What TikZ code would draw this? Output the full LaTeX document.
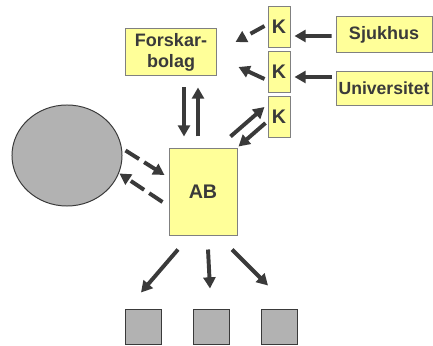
\documentclass[tikz,border=0pt]{standalone}
\usepackage{fontspec}
\setmainfont{Liberation Sans}
\usetikzlibrary{arrows.meta,shapes.geometric}
\definecolor{boxyellow}{HTML}{FFFF99}
\definecolor{boxedge}{HTML}{808080}
\definecolor{blobgray}{HTML}{B2B2B2}
\definecolor{inkgray}{HTML}{3A3A3A}
\tikzset{
  yellowbox/.style={draw=boxedge, fill=boxyellow, line width=0.7pt, inner sep=0pt,
    text=inkgray, font=\fontsize{12.8}{15}\selectfont\bfseries, align=center},
  bigletter/.style={font=\fontsize{14}{16}\selectfont\bfseries},
  graybox/.style={draw=inkgray, fill=blobgray, line width=0.7pt, inner sep=0pt},
  arr/.style={draw=inkgray, line width=2.8pt,
    -{Triangle[length=0.28cm,width=0.3cm]}},
  dasharr/.style={arr, dash pattern=on 0.4cm off 0.15cm}
}
\begin{document}
\begin{tikzpicture}[x=0.025cm, y=-0.025cm]
  \useasboundingbox (0,0) rectangle (433,346);

  % Boxes at the top
  \node [yellowbox, minimum width=2.25cm, minimum height=1.15cm] (forskar) at (171,52) {Forskar-\\bolag};%
  \node [yellowbox, bigletter, minimum width=0.55cm, minimum height=1.0cm] (k1) at (279,27) {K};%
  \node [yellowbox, bigletter, minimum width=0.55cm, minimum height=1.0cm] (k2) at (279,72) {K};%
  \node [yellowbox, bigletter, minimum width=0.55cm, minimum height=1.0cm] (k3) at (279,117) {K};%
  \node [yellowbox, minimum width=2.4cm, minimum height=0.875cm] (sjukhus) at (384,34.5) {Sjukhus};%
  \node [yellowbox, font=\fontsize{12.5}{15}\selectfont\bfseries, minimum width=2.4cm, minimum height=0.825cm] (univ) at (384,88.5) {Universitet};%

  % Middle: AB and the grey blob
  \node [yellowbox, bigletter, minimum width=1.7cm, minimum height=2.15cm] (ab) at (203,192) {AB};%
  \node [graybox, ellipse, minimum width=2.75cm, minimum height=2.525cm] (blob) at (67,155.5) {};%

  % Squares at the bottom
  \node [graybox, minimum width=0.9cm, minimum height=0.875cm] (sq1) at (143,326.5) {};%
  \node [graybox, minimum width=0.9cm, minimum height=0.875cm] (sq2) at (211,326.5) {};%
  \node [graybox, minimum width=0.9cm, minimum height=0.875cm] (sq3) at (279.5,326.5) {};%

  % Sjukhus and Universitet to K
  \draw [arr] ([shift={(-4,1.5)}]sjukhus.west) -- ([shift={(4,9)}]k1.east);%
  \draw [arr] ([shift={(-4,-11.5)}]univ.west) -- ([shift={(4,5)}]k2.east);%

  % K to Forskarbolag
  \draw [dasharr] ([shift={(-3,-1)}]k1.west) -- ([shift={(19,-10)}]forskar.east);%
  \draw [arr] ([shift={(-3,7)}]k2.west) -- ([shift={(22,15)}]forskar.east);%

  % AB and K
  \draw [arr] ([shift={(-7,-12)}]ab.north east) -- ([shift={(-3,-10)}]k3.west);%
  \draw [arr] ([shift={(-2,6)}]k3.west) -- ([shift={(1,-2)}]ab.north east);%

  % Forskarbolag and AB
  \draw [arr] ([shift={(13,12)}]forskar.south) -- ([shift={(-19,-12)}]ab.north);%
  \draw [arr] ([shift={(-5,-12)}]ab.north) -- ([shift={(27,12)}]forskar.south);%

  % Blob and AB
  \draw [dasharr] ([shift={(3,-5)}]blob.east) -- ([shift={(-4,-17)}]ab.west);%
  \draw [dasharr] ([shift={(-6,10)}]ab.west) -- ([shift={(-3,18)}]blob.east);%

  % AB to the squares
  \draw [arr] ([shift={(-25,14)}]ab.south) -- ([shift={(-2,-16)}]sq1.north);%
  \draw [arr] ([shift={(5,14)}]ab.south) -- ([shift={(-1,-20)}]sq2.north);%
  \draw [arr] ([shift={(29,14)}]ab.south) -- ([shift={(-11.5,-23)}]sq3.north);%
\end{tikzpicture}
\end{document}
